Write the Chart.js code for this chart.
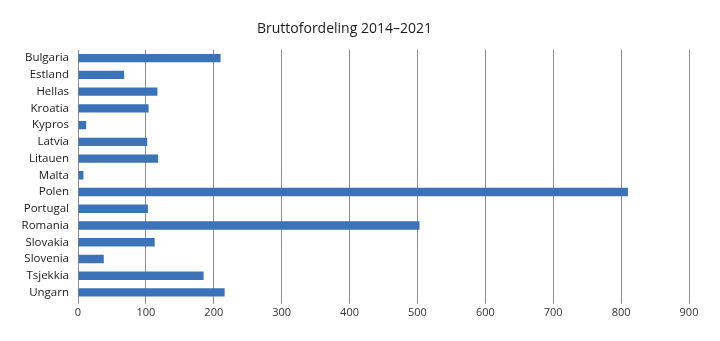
<!DOCTYPE html>
<html>
<head>
<meta charset="utf-8">
<script src="https://cdn.jsdelivr.net/npm/chart.js@4"></script>
<style>
  html, body { margin: 0; padding: 0; background: #fff; }
  #wrap { width: 720px; height: 341px; }
</style>
</head>
<body>
<div id="wrap"><canvas id="myChart"></canvas></div>
<script>
var countries = ["Bulgaria", "Estland", "Hellas", "Kroatia", "Kypros", "Latvia", "Litauen", "Malta",
                 "Polen", "Portugal", "Romania", "Slovakia", "Slovenia", "Tsjekkia", "Ungarn"];
var amounts = [210, 68, 117, 104, 12, 102, 118, 8, 810, 103, 503, 113, 38, 185, 216];
var xTicks = [0, 100, 200, 300, 400, 500, 600, 700, 800, 900];

var font = "'Open Sans', 'Noto Sans', sans-serif";

var ctx = document.getElementById("myChart");

var data = {
    labels: countries,
    datasets: [
        {
            label: "Bruttofordeling",
            data: amounts,
            backgroundColor: "#3b72b8",
            borderWidth: 0,
            barPercentage: 0.5,
            categoryPercentage: 1.0
        }
    ]
};

var options = {
    indexAxis: "y",
    responsive: true,
    maintainAspectRatio: false,
    animation: false,
    layout: { padding: { left: 0, right: 31, top: 0, bottom: 20 } },
    plugins: {
        legend: { display: false },
        tooltip: { enabled: false },
        title: {
            display: true,
            text: "Bruttofordeling 2014\u20132021",
            color: "#1a1a1a",
            font: { family: font, size: 14, weight: "normal" },
            padding: { top: 21, bottom: 12 }
        }
    },
    scales: {
        x: {
            min: 0,
            max: 900,
            afterBuildTicks: function(scale) {
                scale.ticks = xTicks.map(function(v) { return { value: v }; });
            },
            border: { display: false },
            grid: { color: "#8c8c8c", lineWidth: 1, drawTicks: true, tickLength: 3 },
            ticks: {
                color: "#333",
                padding: 2,
                maxRotation: 0,
                font: { family: font, size: 11 }
            }
        },
        y: {
            afterFit: function(scale) { scale.width = 78; },
            border: { display: false },
            grid: { display: false, drawTicks: false },
            ticks: {
                color: "#1a1a1a",
                padding: 9,
                autoSkip: false,
                font: { family: font, size: 11.5 }
            }
        }
    }
};

var barChart = new Chart(ctx, {
    type: "bar",
    data: data,
    options: options
});
</script>
</body>
</html>
